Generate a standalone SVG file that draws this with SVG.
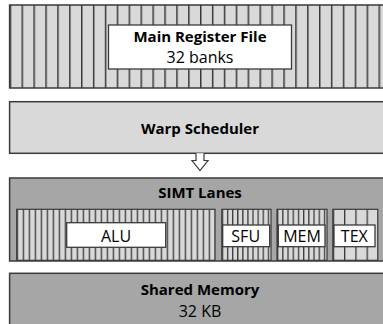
<svg xmlns="http://www.w3.org/2000/svg" width="383" height="324" viewBox="0 0 383 324">
  <style>
    .block { stroke: #3a3a3a; stroke-width: 1.5; }
    .light { fill: #d9d9d9; }
    .dark { fill: #a6a6a6; }
    .label { fill: #ffffff; stroke: #3a3a3a; stroke-width: 1.3; }
    .panel { stroke: #3a3a3a; stroke-width: 1.2; }
    text { font-family: "Open Sans", "Noto Sans", "Liberation Sans", sans-serif; fill: #000; text-anchor: middle; }
    .title { font-size: 15px; font-weight: bold; }
    .sub { font-size: 16px; }
  </style>
  <defs>
    <!-- vertical bank / lane stripes -->
    <pattern id="banks" patternUnits="userSpaceOnUse" x="9.6" y="0" width="11.9" height="10">
      <rect width="11.9" height="10" fill="#d9d9d9"/>
      <line x1="0" y1="0" x2="0" y2="10" stroke="#3a3a3a" stroke-width="3"/>
    </pattern>
    <pattern id="lanes" patternUnits="userSpaceOnUse" x="16.7" y="0" width="6" height="10">
      <rect width="6" height="10" fill="#d9d9d9"/>
      <line x1="0" y1="0" x2="0" y2="10" stroke="#3a3a3a" stroke-width="2.6"/>
    </pattern>
    <pattern id="sfuLanes" patternUnits="userSpaceOnUse" x="221.8" y="0" width="5.1" height="10">
      <rect width="5.1" height="10" fill="#d9d9d9"/>
      <line x1="0" y1="0" x2="0" y2="10" stroke="#3a3a3a" stroke-width="2.6"/>
    </pattern>
    <pattern id="memLanes" patternUnits="userSpaceOnUse" x="277" y="0" width="5.2" height="10">
      <rect width="5.2" height="10" fill="#d9d9d9"/>
      <line x1="0" y1="0" x2="0" y2="10" stroke="#3a3a3a" stroke-width="2.6"/>
    </pattern>
    <pattern id="texLanes" patternUnits="userSpaceOnUse" x="332.8" y="0" width="11.25" height="10">
      <rect width="11.25" height="10" fill="#d9d9d9"/>
      <line x1="0" y1="0" x2="0" y2="10" stroke="#3a3a3a" stroke-width="2.6"/>
    </pattern>
  </defs>

  <!-- register file with its banks -->
  <g id="register-file">
    <rect class="block" x="9.6" y="5" width="382" height="83" fill="url(#banks)"/>
    <rect class="label" x="108.5" y="25" width="183" height="44"/>
    <text class="title" x="200" y="42">Main Register File</text>
    <text class="sub" x="200" y="63">32 banks</text>
  </g>

  <g id="warp-scheduler">
    <rect class="block light" x="9.6" y="101.7" width="382" height="51.6"/>
    <text class="title" x="200" y="134">Warp Scheduler</text>
  </g>

  <g id="connectors">
    <path d="M196 153.3 V160.5 H192 L200 170.5 L208 160.5 H204 V153.3" fill="#fff" stroke="#3a3a3a" stroke-width="1.2" stroke-linejoin="miter"/>
  </g>

  <g id="simt-lanes">
    <rect class="block dark" x="9.6" y="178" width="382" height="83"/>
    <text class="title" x="200" y="198">SIMT Lanes</text>
  </g>

  <g id="alu">
    <rect class="panel" x="16.7" y="209.3" width="198.3" height="51" fill="url(#lanes)"/>
    <rect class="label" x="66.7" y="222.7" width="99" height="24.6"/>
    <text class="sub" x="116" y="241.5">ALU</text>
  </g>

  <g id="sfu">
    <rect class="panel" x="221.8" y="209.3" width="49.2" height="51" fill="url(#sfuLanes)"/>
    <rect class="label" x="222.7" y="225" width="47" height="21.7"/>
    <text class="sub" x="245.7" y="241.5">SFU</text>
  </g>

  <g id="mem">
    <rect class="panel" x="277" y="209.3" width="50" height="51" fill="url(#memLanes)"/>
    <rect class="label" x="278.3" y="225" width="46.7" height="21.7"/>
    <text class="sub" x="302" y="241.5">MEM</text>
  </g>

  <g id="tex">
    <rect class="panel" x="332.8" y="209.3" width="45" height="51" fill="url(#texLanes)"/>
    <rect class="label" x="334" y="225" width="41" height="21.7"/>
    <text class="sub" x="354.3" y="241.5">TEX</text>
  </g>

  <g id="shared-memory">
    <rect class="block dark" x="9.6" y="273.3" width="382" height="60"/>
    <text class="title" x="200" y="295">Shared Memory</text>
    <text class="sub" x="200" y="316.5">32 KB</text>
  </g>
</svg>
